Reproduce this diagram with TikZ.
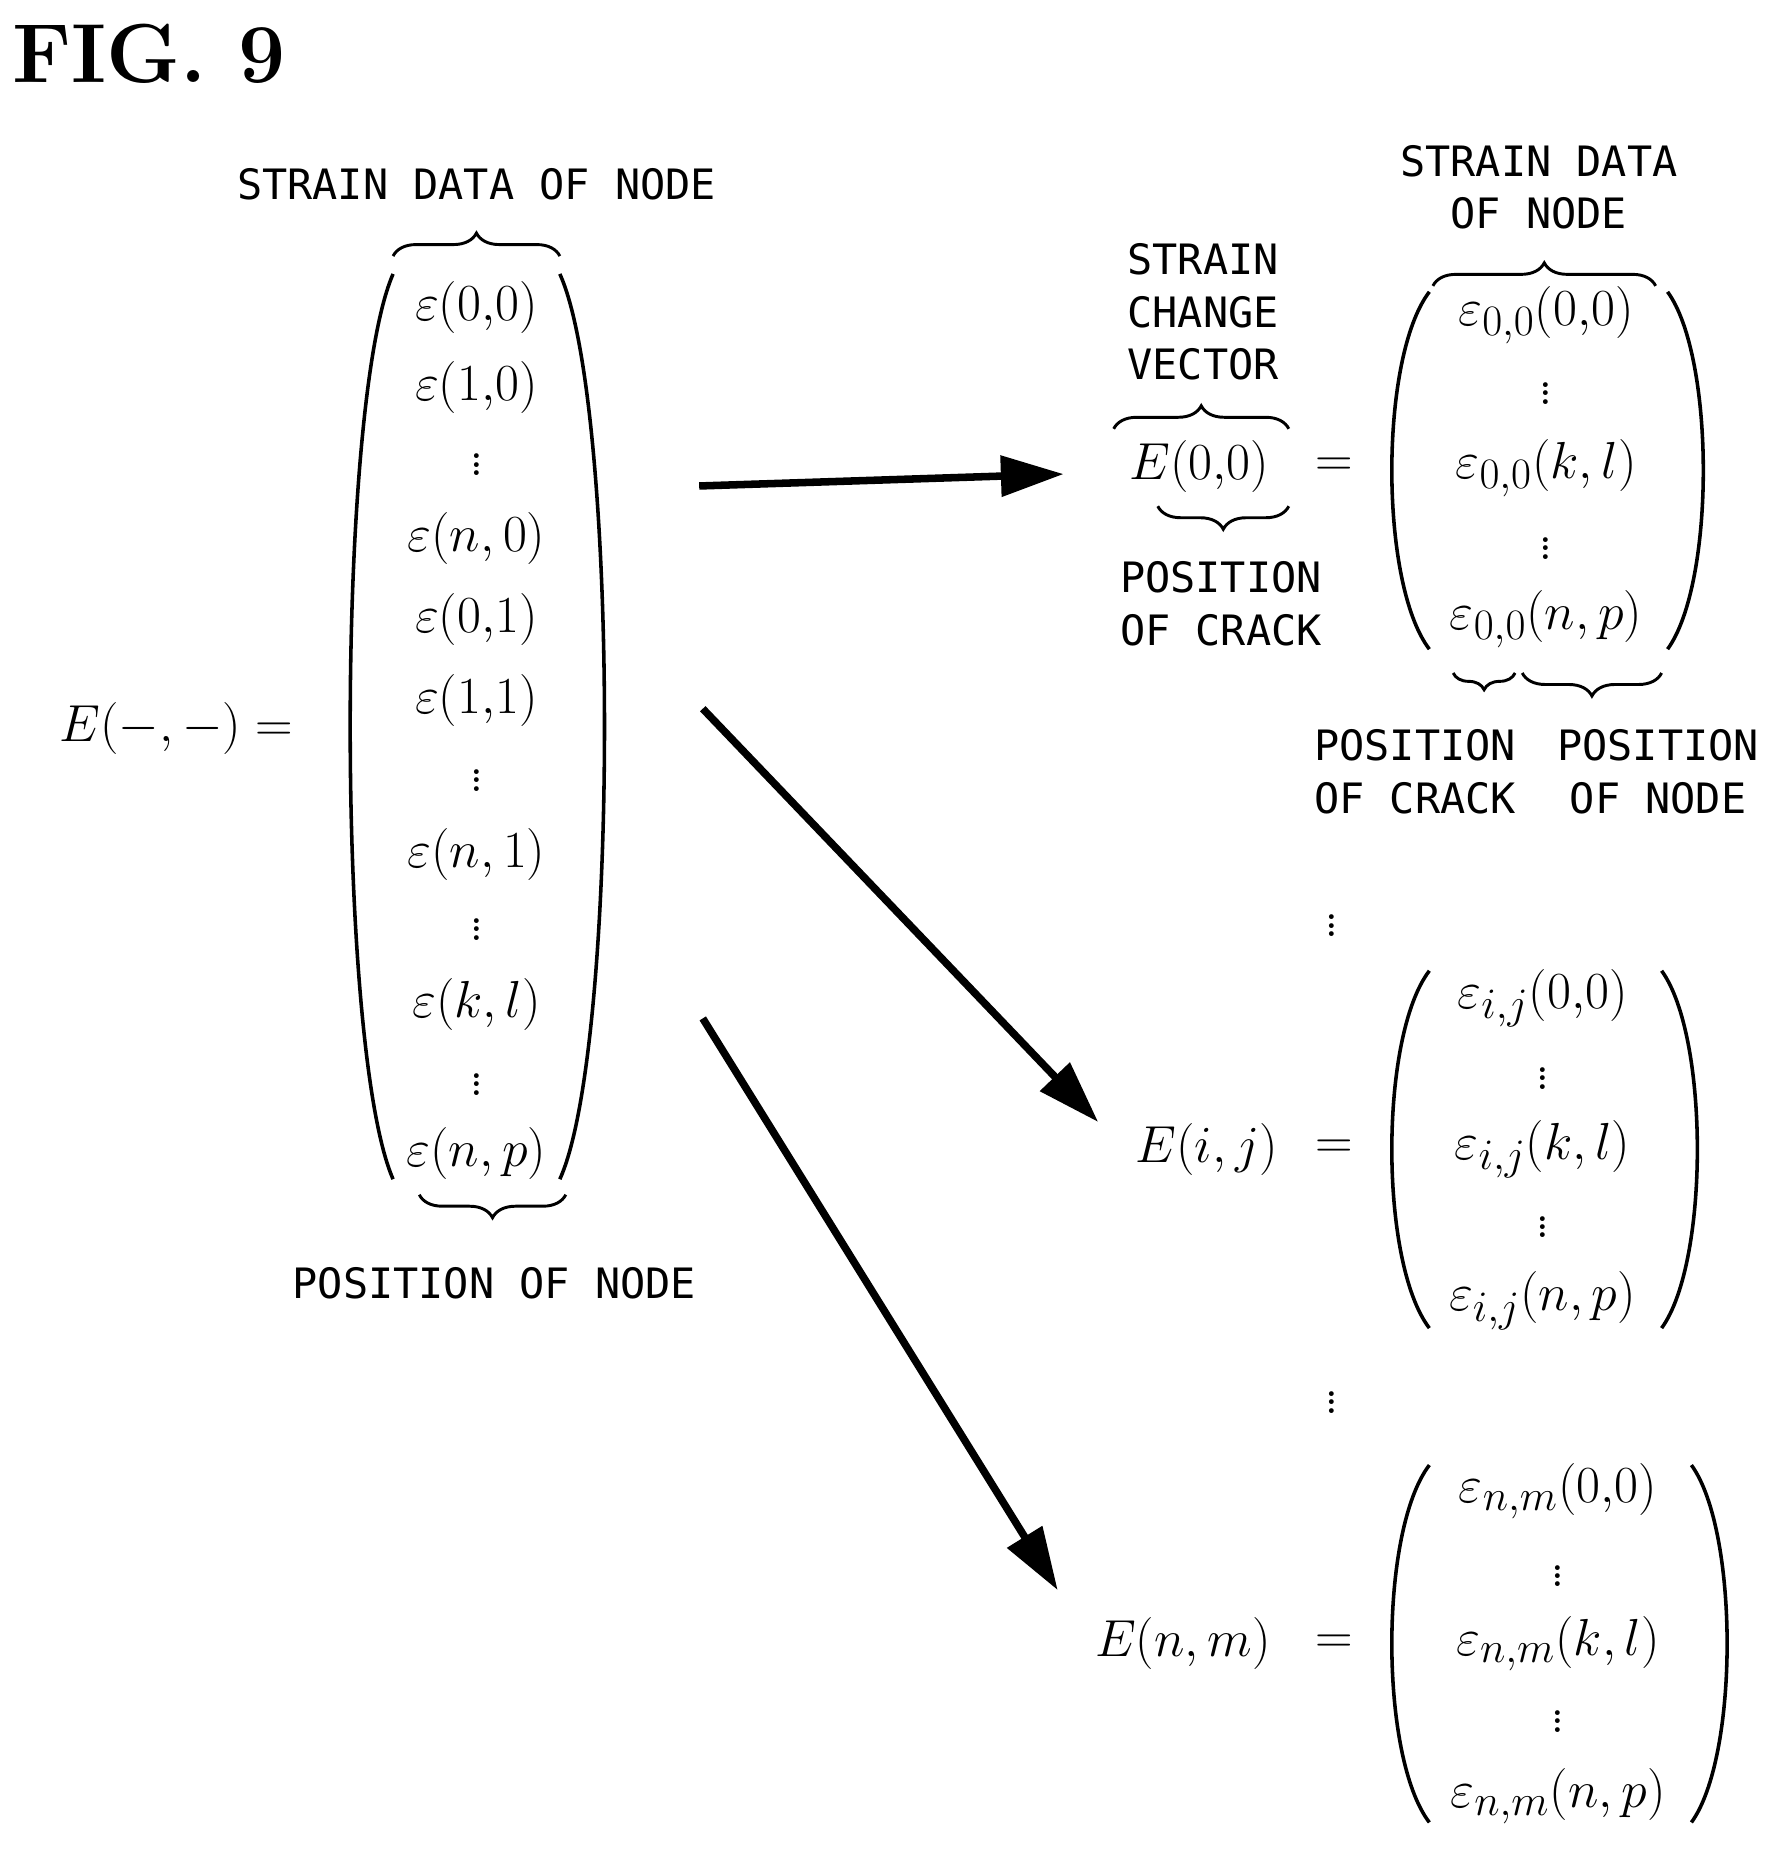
\documentclass[tikz,border=0pt]{standalone}
\usepackage{fontspec}
\usepackage{amsmath}
\newfontfamily\lab{DejaVu Sans Mono}
\usetikzlibrary{decorations.pathreplacing,arrows.meta}
\begin{document}
\begin{tikzpicture}[x=0.02cm,y=-0.02cm,
  lbl/.style={font=\lab\fontsize{20}{25}\selectfont,align=center,inner sep=0},
  mth/.style={font=\fontsize{28}{32}\selectfont,inner sep=0},
  brc/.style={decorate,decoration={brace,amplitude=11pt},line width=1.4pt},
  par/.style={line width=1.7pt},
  arr/.style={line width=3.6pt,-{Triangle[length=30pt,width=19pt]}}]
\useasboundingbox (0,0) rectangle (1500,1575);
\node[font=\fontsize{40}{44}\selectfont\bfseries] (fig) at (125,45) {FIG. 9};
% left vector
\node[lbl] (sdn) at (400,155) {STRAIN DATA OF NODE};
\coordinate (b1l) at (330,215); \coordinate (b1r) at (470,215);
\draw[brc] (b1l) -- (b1r);
\draw[par] (330,230) .. controls (282,340) and (282,880) .. (330,990);
\draw[par] (470,230) .. controls (520,340) and (520,880) .. (470,990);
\foreach \y/\t/\n in {258/{\varepsilon(0{,}0)}/a1,325/{\varepsilon(1{,}0)}/a2,385/{\vdots}/a3,452/{\varepsilon(n,0)}/a4,520/{\varepsilon(0{,}1)}/a5,588/{\varepsilon(1{,}1)}/a6,650/{\vdots}/a7,717/{\varepsilon(n,1)}/a8,775/{\vdots}/a9,843/{\varepsilon(k,l)}/a10,905/{\vdots}/a11,968/{\varepsilon(n,p)}/a12}
  \node[mth] (\n) at (400,\y) {$\t$};
\coordinate (b2l) at (475,1003); \coordinate (b2r) at (352,1003);
\draw[brc] (b2l) -- (b2r);
\node[lbl] (pon) at (415,1077) {POSITION OF NODE};
\node[mth] (em) at (148,612) {$E(-,-)=$};
% arrows
\coordinate (s1) at (587,408); \coordinate (t1) at (893,398);
\coordinate (s2) at (590,595); \coordinate (t2) at (922,942);
\coordinate (s3) at (590,855); \coordinate (t3) at (888,1335);
\draw[arr] (s1) -- (t1);
\draw[arr] (s2) -- (t2);
\draw[arr] (s3) -- (t3);
% top right
\node[lbl] (sdn2) at (1292,157) {STRAIN DATA\\OF NODE};
\coordinate (b3l) at (1203,240); \coordinate (b3r) at (1390,240);
\draw[brc] (b3l) -- (b3r);
\node[lbl,align=center] (scv) at (1010,262) {STRAIN\\CHANGE\\VECTOR};
\coordinate (b4l) at (935,360); \coordinate (b4r) at (1082,360);
\draw[brc] (b4l) -- (b4r);
\node[mth] (e00) at (1007,392) {$E(0{,}0)$};
\node[mth] (eq1) at (1120,392) {$=$};
\coordinate (b5l) at (1082,425); \coordinate (b5r) at (972,425);
\draw[brc] (b5l) -- (b5r);
\node[lbl] (poc) at (1025,507) {POSITION\\OF CRACK};
\draw[par] (1200,245) .. controls (1158,300) and (1158,490) .. (1200,545);
\draw[par] (1400,245) .. controls (1440,300) and (1440,490) .. (1400,545);
\foreach \y/\t/\n in {265/{\varepsilon_{0,0}(0{,}0)}/c1,325/{\vdots}/c2,393/{\varepsilon_{0,0}(k,l)}/c3,455/{\vdots}/c4,520/{\varepsilon_{0,0}(n,p)}/c5}
  \node[mth] (\n) at (1298,\y) {$\t$};
\coordinate (b6l) at (1272,565); \coordinate (b6r) at (1220,565);
\draw[brc,decoration={amplitude=8pt}] (b6l) -- (b6r);
\coordinate (b7l) at (1395,565); \coordinate (b7r) at (1278,565);
\draw[brc] (b7l) -- (b7r);
\node[lbl] (poc2) at (1188,648) {POSITION\\OF CRACK};
\node[lbl] (pon2) at (1392,648) {POSITION\\OF NODE};
\node[mth] (d1) at (1118,772) {$\vdots$};
% E(i,j)
\node[mth] (eij) at (1013,965) {$E(i,j)$};
\node[mth] (eq2) at (1120,965) {$=$};
\draw[par] (1200,815) .. controls (1158,870) and (1158,1060) .. (1200,1115);
\draw[par] (1395,815) .. controls (1435,870) and (1435,1060) .. (1395,1115);
\foreach \y/\t/\n in {838/{\varepsilon_{i,j}(0{,}0)}/f1,900/{\vdots}/f2,965/{\varepsilon_{i,j}(k,l)}/f3,1025/{\vdots}/f4,1092/{\varepsilon_{i,j}(n,p)}/f5}
  \node[mth] (\n) at (1295,\y) {$\t$};
\node[mth] (d2) at (1118,1172) {$\vdots$};
% E(n,m)
\node[mth] (enm) at (993,1380) {$E(n,m)$};
\node[mth] (eq3) at (1120,1380) {$=$};
\draw[par] (1200,1230) .. controls (1158,1285) and (1158,1475) .. (1200,1530);
\draw[par] (1420,1230) .. controls (1460,1285) and (1460,1475) .. (1420,1530);
\foreach \y/\t/\n in {1252/{\varepsilon_{n,m}(0{,}0)}/g1,1318/{\vdots}/g2,1380/{\varepsilon_{n,m}(k,l)}/g3,1440/{\vdots}/g4,1508/{\varepsilon_{n,m}(n,p)}/g5}
  \node[mth] (\n) at (1308,\y) {$\t$};
\end{tikzpicture}
\end{document}
